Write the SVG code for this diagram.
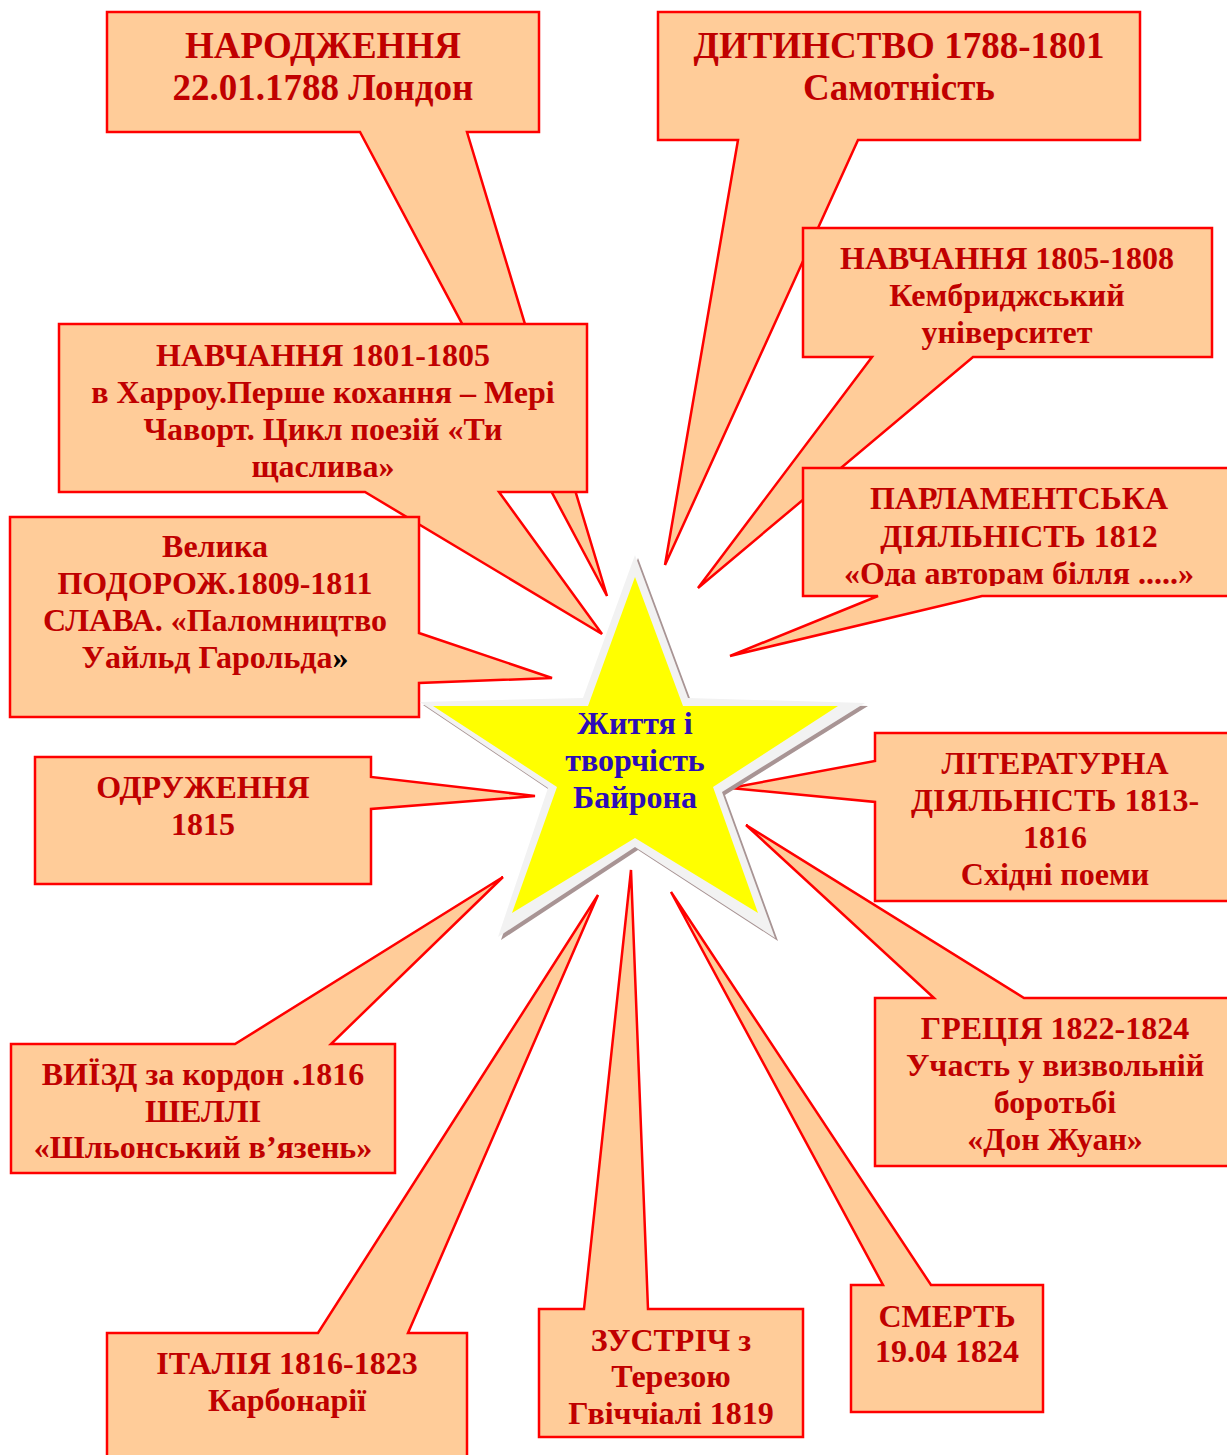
<svg xmlns="http://www.w3.org/2000/svg" width="1227" height="1455" viewBox="0 0 1227 1455">
<style>
.box{fill:#FFCC99;stroke:#FF0000;stroke-width:2.5;stroke-linejoin:miter}
.t{font-family:"Liberation Serif","Times New Roman",serif;font-weight:bold;font-size:32px;fill:#C00000;text-anchor:middle}
.big{font-size:37px}
.star{font-family:"Liberation Serif","Times New Roman",serif;font-weight:bold;font-size:32px;fill:#2D0DB7;text-anchor:middle}
</style>
<defs>
<clipPath id="clipParl"><rect x="800" y="460" width="440" height="126"/></clipPath>
</defs>
<rect width="1227" height="1455" fill="#FFFFFF"/>
<g id="connectors"></g>
<g id="n1">
<path class="box" d="M107,12 H539 V132 H467 L607,596 L360,132 H107 Z"/>
<text class="t big" x="323" y="58">НАРОДЖЕННЯ</text>
<text class="t big" x="323" y="100">22.01.1788 Лондон</text>
</g>
<g id="n2">
<path class="box" d="M658,12 H1140 V140 H858 L665,565 L738,140 H658 Z"/>
<text class="t big" x="899" y="58">ДИТИНСТВО 1788-1801</text>
<text class="t big" x="899" y="100">Самотність</text>
</g>
<g id="n3">
<path class="box" d="M59,324 H587 V492 H499 L602,634 L365,492 H59 Z"/>
<text class="t" x="323" y="366">НАВЧАННЯ 1801-1805</text>
<text class="t" x="323" y="403">в Харроу.Перше кохання – Мері</text>
<text class="t" x="323" y="440">Чаворт. Цикл поезій «Ти</text>
<text class="t" x="323" y="477">щаслива»</text>
</g>
<g id="n4">
<path class="box" d="M803,228 H1212 V357 H973 L698,588 L872,357 H803 Z"/>
<text class="t" x="1007" y="269">НАВЧАННЯ 1805-1808</text>
<text class="t" x="1007" y="306">Кембриджський</text>
<text class="t" x="1007" y="343">університет</text>
</g>
<g id="n5">
<path class="box" d="M10,517 H419 V633 L552,678 L419,683 V717 H10 Z"/>
<text class="t" x="215" y="557">Велика</text>
<text class="t" x="215" y="594">ПОДОРОЖ.1809-1811</text>
<text class="t" x="215" y="631">СЛАВА. «Паломництво</text>
<text class="t" x="215" y="668">Уайльд Гарольда<tspan fill="#000000">»</tspan></text>
</g>
<g id="n6">
<path class="box" d="M803,468 H1240 V596 H982 L730,656 L878,596 H803 Z"/>
<g clip-path="url(#clipParl)">
<text class="t" x="1019" y="509">ПАРЛАМЕНТСЬКА</text>
<text class="t" x="1019" y="547">ДІЯЛЬНІСТЬ 1812</text>
<text class="t" x="1019" y="584">«Ода авторам білля .....»</text>
</g>
</g>
<g id="n7">
<path class="box" d="M35,757 H371 V777 L535,796 L371,809 V884 H35 Z"/>
<text class="t" x="203" y="798">ОДРУЖЕННЯ</text>
<text class="t" x="203" y="835">1815</text>
</g>
<g id="n8">
<path class="box" d="M875,733 H1240 V901 H875 V802 L730,788 L875,761 Z"/>
<text class="t" x="1055" y="774">ЛІТЕРАТУРНА</text>
<text class="t" x="1055" y="811">ДІЯЛЬНІСТЬ 1813-</text>
<text class="t" x="1055" y="848">1816</text>
<text class="t" x="1055" y="885">Східні поеми</text>
</g>
<g id="n9">
<path class="box" d="M11,1044 H235 L503,877 L331,1044 H395 V1173 H11 Z"/>
<text class="t" x="203" y="1085">ВИЇЗД за кордон .1816</text>
<text class="t" x="203" y="1122">ШЕЛЛІ</text>
<text class="t" x="203" y="1158">«Шльонський в’язень»</text>
</g>
<g id="n10">
<path class="box" d="M875,998 H934 L746,825 L1024,998 H1240 V1166 H875 Z"/>
<text class="t" x="1055" y="1039">ГРЕЦІЯ 1822-1824</text>
<text class="t" x="1055" y="1076">Участь у визвольній</text>
<text class="t" x="1055" y="1113">боротьбі</text>
<text class="t" x="1055" y="1150">«Дон Жуан»</text>
</g>
<g id="n11">
<path class="box" d="M107,1333 H318 L598,895 L408,1333 H467 V1470 H107 Z"/>
<text class="t" x="287" y="1374">ІТАЛІЯ 1816-1823</text>
<text class="t" x="287" y="1411">Карбонарії</text>
</g>
<g id="n12">
<path class="box" d="M539,1309 H584 L631,870 L648,1309 H803 V1437 H539 Z"/>
<text class="t" x="671" y="1351">ЗУСТРІЧ з</text>
<text class="t" x="671" y="1387">Терезою</text>
<text class="t" x="671" y="1424">Гвіччіалі 1819</text>
</g>
<g id="n13">
<path class="box" d="M851,1285 H883 L671,892 L931,1285 H1043 V1412 H851 Z"/>
<text class="t" x="947" y="1327">СМЕРТЬ</text>
<text class="t" x="947" y="1362">19.04 1824</text>
</g>
<g id="center">
<polygon points="635,555 688,698 865,703 722,792 775,938 635,847 498,937 548,788 420,702 583,698" fill="#A89494" transform="translate(3,3)"/>
<polygon points="635,555 688,698 865,703 722,792 775,938 635,847 498,937 548,788 420,702 583,698" fill="#F2F2F2"/>
<polygon points="635,577 683,706 838,706 713,787 758,913 635,838 512,913 557,787 433,706 588,706" fill="#FFFF00"/>
<text class="star" x="635" y="734">Життя і</text>
<text class="star" x="635" y="771">творчість</text>
<text class="star" x="635" y="808">Байрона</text>
</g>
</svg>
